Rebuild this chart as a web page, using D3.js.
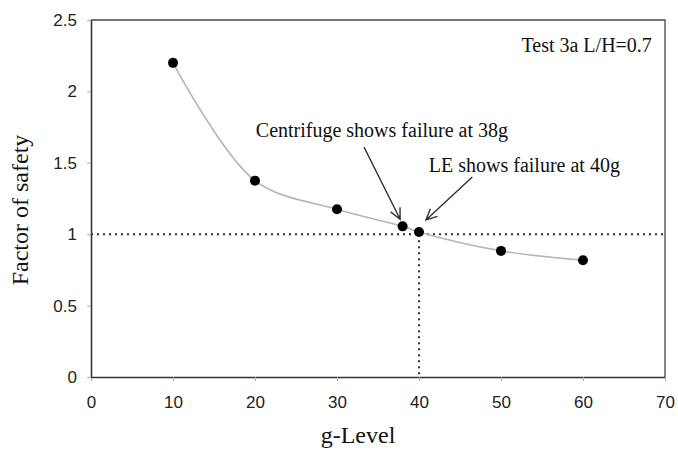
<!DOCTYPE html>
<meta charset="utf-8">
<style>
body { margin: 0; background: #fff; }
svg { display: block; }
.tick text { font-family: "Liberation Sans", Arial, sans-serif; font-size: 17px; fill: #222; }
.serif { font-family: "Liberation Serif", "Times New Roman", serif; fill: #111; }
</style>
<body>
<div id="chart"></div>
<script src="https://cdn.jsdelivr.net/npm/d3@7"></script>
<script>
// g-level vs factor of safety
var gLevel = [10, 20, 30, 38, 40, 50, 60];
var fos = [2.2, 1.375, 1.175, 1.055, 1.015, 0.883, 0.818];
var xTicks = [0, 10, 20, 30, 40, 50, 60, 70];
var yTicks = [0, 0.5, 1, 1.5, 2, 2.5];

// annotations, in data units
var notes = [
  { text: "Centrifuge shows failure at 38g", x: 20.1, y: 1.68, anchor: "start", size: 20 },
  { text: "LE shows failure at 40g", x: 41.2, y: 1.435, anchor: "start", size: 20 },
  { text: "Test 3a L/H=0.7", x: 68.4, y: 2.275, anchor: "end", size: 20 }
];
var arrows = [
  { x1: 33.3, y1: 1.61, x2: 37.7, y2: 1.105 },
  { x1: 46.5, y1: 1.40, x2: 40.85, y2: 1.10 }
];

var W = 678, H = 450;
var x = d3.scaleLinear().domain([0, 70]).range([91, 665]);
var y = d3.scaleLinear().domain([0, 2.5]).range([377, 20]);

var svg = d3.select("#chart").append("svg").attr("width", W).attr("height", H);

// frame top/right
svg.append("path")
  .attr("d", "M" + x(0) + "," + y(2.5) + "H" + x(70) + "V" + y(0))
  .attr("fill", "none").attr("stroke", "#444").attr("stroke-width", 1.3);

var xAxis = svg.append("g")
  .attr("transform", "translate(0," + y(0) + ")")
  .call(d3.axisBottom(x).tickValues(xTicks).tickSize(4).tickSizeOuter(0).tickPadding(15));
var yAxis = svg.append("g")
  .attr("transform", "translate(" + x(0) + ",0)")
  .call(d3.axisLeft(y).tickValues(yTicks).tickSize(4).tickSizeOuter(0).tickPadding(10).tickFormat(d3.format("")));
[xAxis, yAxis].forEach(function(a) {
  a.select(".domain").attr("stroke", "#333").attr("stroke-width", 1.6);
  a.selectAll(".tick line").attr("stroke", "#aaa");
});

// reference lines FS=1 and g=40
svg.append("line")
  .attr("x1", x(0)).attr("x2", x(70)).attr("y1", y(1)).attr("y2", y(1))
  .attr("stroke", "#333").attr("stroke-width", 2).attr("stroke-dasharray", "2,4");
svg.append("line")
  .attr("x1", x(40)).attr("x2", x(40)).attr("y1", y(1)).attr("y2", y(0))
  .attr("stroke", "#333").attr("stroke-width", 2).attr("stroke-dasharray", "2,4");

var pts = gLevel.map(function(g, i) { return [g, fos[i]]; });

svg.append("path")
  .datum(pts)
  .attr("fill", "none").attr("stroke", "#b5b5b5").attr("stroke-width", 1.6)
  .attr("d", d3.line().curve(d3.curveCatmullRom.alpha(0.5))
    .x(function(d) { return x(d[0]); }).y(function(d) { return y(d[1]); }));

svg.selectAll(".dot").data(pts).enter().append("circle")
  .attr("cx", function(d) { return x(d[0]); })
  .attr("cy", function(d) { return y(d[1]); })
  .attr("r", 5).attr("fill", "#000");

// arrows with open heads
arrows.forEach(function(a) {
  var x1 = x(a.x1), y1 = y(a.y1), x2 = x(a.x2), y2 = y(a.y2);
  var ang = Math.atan2(y2 - y1, x2 - x1), len = 12, spread = 0.45;
  var p = "M" + x1 + "," + y1 + "L" + x2 + "," + y2 +
    "M" + (x2 - len * Math.cos(ang - spread)) + "," + (y2 - len * Math.sin(ang - spread)) +
    "L" + x2 + "," + y2 +
    "L" + (x2 - len * Math.cos(ang + spread)) + "," + (y2 - len * Math.sin(ang + spread));
  svg.append("path").attr("d", p).attr("fill", "none")
    .attr("stroke", "#333").attr("stroke-width", 1.4);
});

svg.selectAll(".note").data(notes).enter().append("text")
  .attr("class", "serif")
  .attr("x", function(d) { return x(d.x); })
  .attr("y", function(d) { return y(d.y); })
  .attr("text-anchor", function(d) { return d.anchor; })
  .style("font-size", function(d) { return d.size + "px"; })
  .text(function(d) { return d.text; });

// axis titles
svg.append("text").attr("class", "serif")
  .attr("x", 358).attr("y", 443)
  .attr("text-anchor", "middle").style("font-size", "24px")
  .text("g-Level");
svg.append("text").attr("class", "serif")
  .attr("transform", "translate(28,210) rotate(-90)")
  .attr("text-anchor", "middle").style("font-size", "24px")
  .text("Factor of safety");
</script>
